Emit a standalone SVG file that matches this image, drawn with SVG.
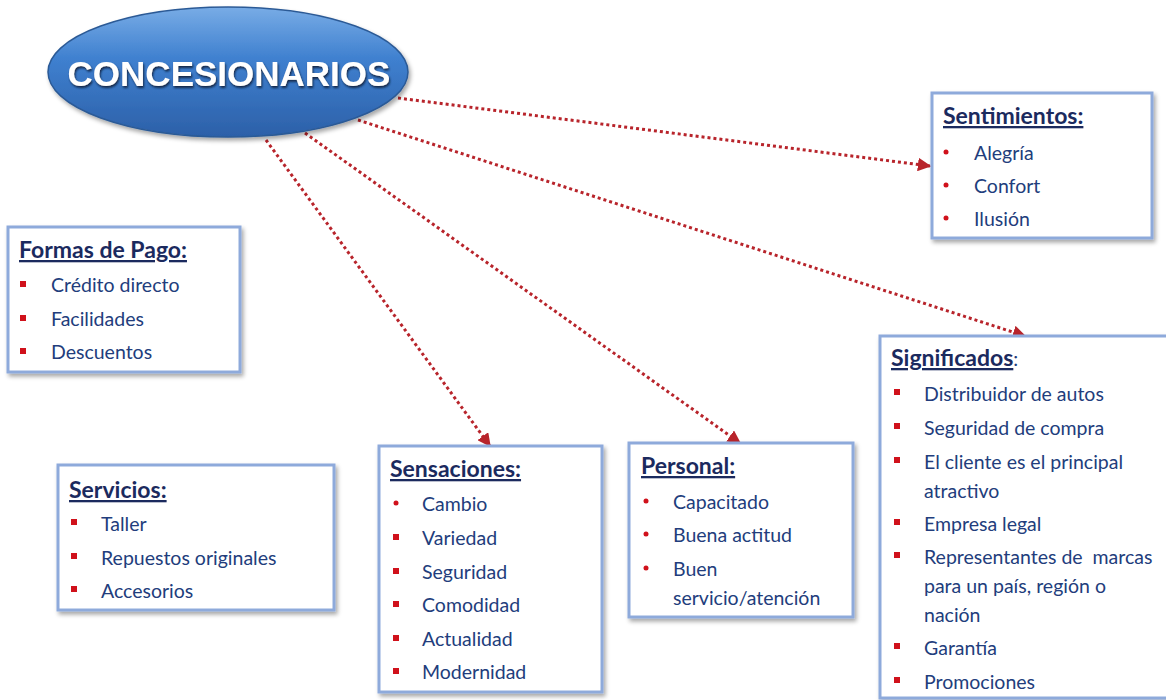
<svg xmlns="http://www.w3.org/2000/svg" width="1166" height="700" viewBox="0 0 1166 700">
<defs>
<linearGradient id="eg" x1="0" y1="0" x2="0" y2="1">
<stop offset="0" stop-color="#78ace6"/>
<stop offset="0.4" stop-color="#3f80cf"/>
<stop offset="1" stop-color="#2c60a8"/>
</linearGradient>
<filter id="sh" x="-10%" y="-10%" width="130%" height="130%">
<feDropShadow dx="2" dy="3" stdDeviation="2" flood-color="#000" flood-opacity="0.35"/>
</filter>
<filter id="tsh" x="-10%" y="-20%" width="120%" height="150%">
<feDropShadow dx="1" dy="2" stdDeviation="1.2" flood-color="#0b1a3a" flood-opacity="0.9"/>
</filter>
<marker id="ah" viewBox="0 0 10 10" refX="9" refY="5" markerWidth="4.5" markerHeight="4.5" orient="auto" markerUnits="strokeWidth">
<path d="M0,0 L10,5 L0,10 z" fill="#b8242b"/>
</marker>
</defs>
<style>
.box{fill:#fff;stroke:#8eaadb;stroke-width:3;filter:url(#sh)}
.ttl{font-family:Lato,"Liberation Sans",sans-serif;font-weight:bold;font-size:23px;fill:#1b2a5e;text-decoration:underline}
.itm{font-family:Lato,"Liberation Sans",sans-serif;font-size:19.5px;fill:#223d7c}
.sq{fill:#d0111b}
.dt{fill:#d0111b}
.con{fill:none;stroke:#b8242b;stroke-width:3;stroke-dasharray:3 3;marker-end:url(#ah)}
</style>
<rect width="1166" height="700" fill="#fff"/>

<g id="connectors">
<path class="con" d="M398,98 L930,166"/>
<path class="con" d="M358,120 L1025,336"/>
<path class="con" d="M305,133 L740,443"/>
<path class="con" d="M266,140 L490,446"/>
</g>

<g id="concesionarios">
<ellipse cx="228" cy="72" rx="180" ry="65" fill="url(#eg)" stroke="#2c5a96" stroke-width="1.5" filter="url(#sh)"/>
<text x="229" y="86" text-anchor="middle" font-family="'Liberation Sans',Arial,sans-serif" font-weight="bold" font-size="35" fill="#fff" filter="url(#tsh)">CONCESIONARIOS</text>
</g>

<g id="formas-de-pago">
<rect class="box" x="8" y="227" width="232" height="145"/>
<text class="ttl" x="19" y="258">Formas de Pago:</text>
<rect class="sq" x="20" y="281" width="6" height="6"/><text class="itm" x="51" y="292">Crédito directo</text>
<rect class="sq" x="20" y="315" width="6" height="6"/><text class="itm" x="51" y="326">Facilidades</text>
<rect class="sq" x="20" y="348" width="6" height="6"/><text class="itm" x="51" y="359">Descuentos</text>
</g>

<g id="sentimientos">
<rect class="box" x="932" y="93" width="220" height="145"/>
<text class="ttl" x="943" y="124">Sentimientos:</text>
<circle class="dt" cx="946" cy="152" r="2.5"/><text class="itm" x="974" y="160">Alegría</text>
<circle class="dt" cx="946" cy="185" r="2.5"/><text class="itm" x="974" y="193">Confort</text>
<circle class="dt" cx="946" cy="218" r="2.5"/><text class="itm" x="974" y="226">Ilusión</text>
</g>

<g id="servicios">
<rect class="box" x="58" y="465" width="276" height="145"/>
<text class="ttl" x="69" y="498">Servicios:</text>
<rect class="sq" x="71" y="519" width="6" height="6"/><text class="itm" x="101" y="531">Taller</text>
<rect class="sq" x="71" y="553" width="6" height="6"/><text class="itm" x="101" y="565">Repuestos originales</text>
<rect class="sq" x="71" y="586" width="6" height="6"/><text class="itm" x="101" y="598">Accesorios</text>
</g>

<g id="sensaciones">
<rect class="box" x="379" y="446" width="223" height="246"/>
<text class="ttl" x="390" y="477">Sensaciones:</text>
<circle class="dt" cx="396" cy="503" r="2.5"/><text class="itm" x="422" y="511">Cambio</text>
<rect class="sq" x="393" y="534" width="6" height="6"/><text class="itm" x="422" y="545">Variedad</text>
<rect class="sq" x="393" y="568" width="6" height="6"/><text class="itm" x="422" y="579">Seguridad</text>
<rect class="sq" x="393" y="601" width="6" height="6"/><text class="itm" x="422" y="612">Comodidad</text>
<rect class="sq" x="393" y="635" width="6" height="6"/><text class="itm" x="422" y="646">Actualidad</text>
<rect class="sq" x="393" y="668" width="6" height="6"/><text class="itm" x="422" y="679">Modernidad</text>
</g>

<g id="personal">
<rect class="box" x="629" y="443" width="224" height="174"/>
<text class="ttl" x="641" y="474">Personal:</text>
<circle class="dt" cx="646" cy="501" r="2.5"/><text class="itm" x="673" y="509">Capacitado</text>
<circle class="dt" cx="646" cy="534" r="2.5"/><text class="itm" x="673" y="542">Buena actitud</text>
<circle class="dt" cx="646" cy="568" r="2.5"/><text class="itm" x="673" y="576">Buen</text>
<text class="itm" x="673" y="605">servicio/atención</text>
</g>

<g id="significados">
<rect class="box" x="880" y="336" width="290" height="362"/>
<text x="891" y="366"><tspan class="ttl">Significados</tspan><tspan class="itm" font-size="22">:</tspan></text>
<rect class="sq" x="894" y="389" width="6" height="6"/><text class="itm" x="924" y="401">Distribuidor de autos</text>
<rect class="sq" x="894" y="423" width="6" height="6"/><text class="itm" x="924" y="435">Seguridad de compra</text>
<rect class="sq" x="894" y="457" width="6" height="6"/><text class="itm" x="924" y="469">El cliente es el principal</text>
<text class="itm" x="924" y="498">atractivo</text>
<rect class="sq" x="894" y="519" width="6" height="6"/><text class="itm" x="924" y="531">Empresa legal</text>
<rect class="sq" x="894" y="552" width="6" height="6"/><text class="itm" x="924" y="564">Representantes de&#160; marcas</text>
<text class="itm" x="924" y="593">para un país, región o</text>
<text class="itm" x="924" y="622">nación</text>
<rect class="sq" x="894" y="643" width="6" height="6"/><text class="itm" x="924" y="655">Garantía</text>
<rect class="sq" x="894" y="677" width="6" height="6"/><text class="itm" x="924" y="689">Promociones</text>
</g>
</svg>
